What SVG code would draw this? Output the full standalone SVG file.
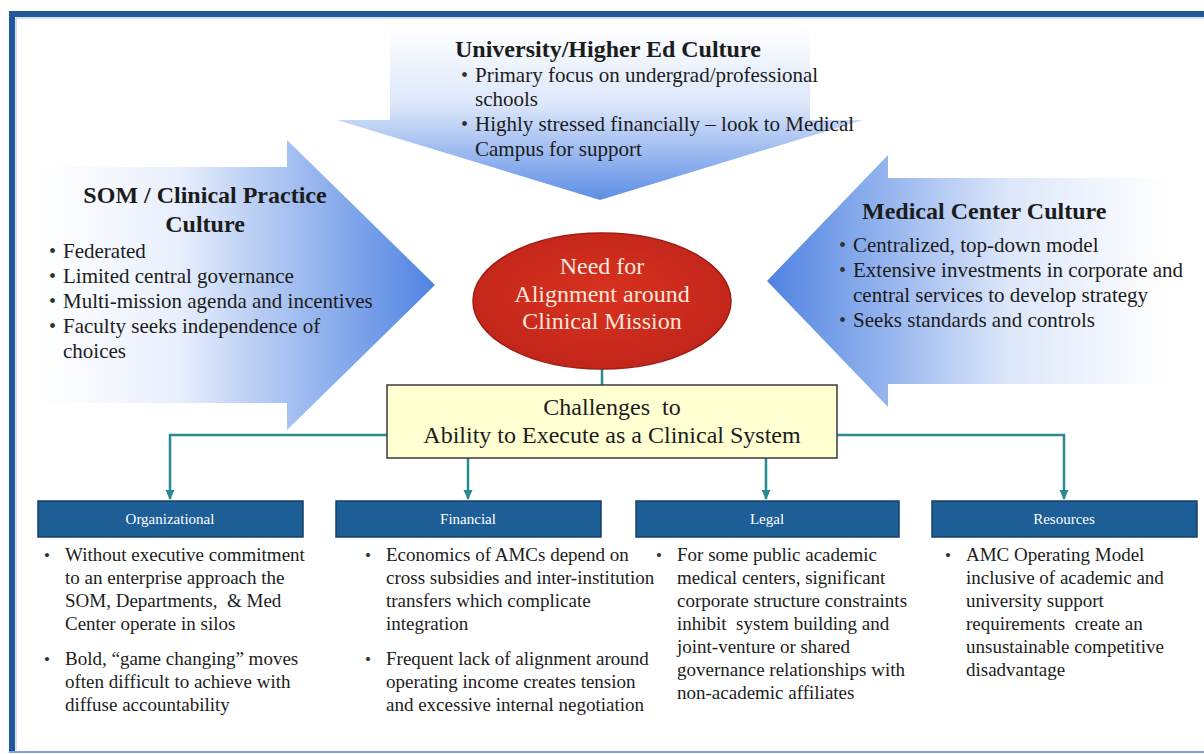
<svg xmlns="http://www.w3.org/2000/svg" width="1204" height="754" viewBox="0 0 1204 754">
<defs>
<linearGradient id="gTop" x1="0" y1="25" x2="0" y2="200" gradientUnits="userSpaceOnUse">
<stop offset="0" stop-color="#ffffff"/><stop offset="0.45" stop-color="#dce7fa"/><stop offset="1" stop-color="#5d8ee6"/>
</linearGradient>
<linearGradient id="gLeft" x1="40" y1="0" x2="435" y2="0" gradientUnits="userSpaceOnUse">
<stop offset="0" stop-color="#ffffff"/><stop offset="0.35" stop-color="#e8effc"/><stop offset="1" stop-color="#4f83e2"/>
</linearGradient>
<linearGradient id="gRight" x1="767" y1="0" x2="1170" y2="0" gradientUnits="userSpaceOnUse">
<stop offset="0" stop-color="#4f83e2"/><stop offset="0.6" stop-color="#dde7fa"/><stop offset="1" stop-color="#ffffff"/>
</linearGradient>
<radialGradient id="gEll" cx="0.5" cy="0.45" r="0.6">
<stop offset="0" stop-color="#d8321f"/><stop offset="1" stop-color="#c0241a"/>
</radialGradient>
<marker id="ah" viewBox="0 0 10 10" refX="9" refY="5" markerWidth="10" markerHeight="10" orient="auto" markerUnits="userSpaceOnUse">
<path d="M0,0.5 L10,5 L0,9.5 z" fill="#2a8a92"/>
</marker>
<style>
.t{font-family:"Liberation Serif","Times New Roman",serif;fill:#1c1c1c}
.ttl{font-family:"Liberation Serif","Times New Roman",serif;font-weight:bold;font-size:24px;fill:#1c1c1c}
.b21{font-size:21px}
.b19{font-size:19px}
.bul{font-family:"Liberation Serif","Times New Roman",serif;fill:#333;font-size:20px}
.bul2{font-family:"Liberation Serif","Times New Roman",serif;fill:#333;font-size:17px}
.hdr{fill:#1d5e97;stroke:#143f66;stroke-width:1.5}
.hdrt{font-family:"Liberation Serif","Times New Roman",serif;font-size:15px;fill:#ffffff;text-anchor:middle}
.con{fill:none;stroke:#2a8a92;stroke-width:2.5}
</style>
</defs>
<rect x="0" y="0" width="1204" height="754" fill="#ffffff"/>
<g id="frame">
<path d="M12,752 L12,14 L1204,14" fill="none" stroke="#24569a" stroke-width="6"/>
<path d="M16,750 L16,18 L1204,18" fill="none" stroke="#a9c3e6" stroke-width="1"/>
<line x1="9" y1="752" x2="1204" y2="752" stroke="#7fa3d6" stroke-width="2"/>
</g>
<g id="university-arrow">
<polygon points="390,22 810,22 810,120 863,120 600,200 337,120 390,120" fill="url(#gTop)"/>
<text class="ttl" x="455" y="57">University/Higher Ed Culture</text>
<text class="bul" x="461" y="82">•</text>
<text class="t b21" x="475" y="82">Primary focus on undergrad/professional</text>
<text class="t b21" x="475" y="106">schools</text>
<text class="bul" x="461" y="131">•</text>
<text class="t b21" x="475" y="131">Highly stressed financially – look to Medical</text>
<text class="t b21" x="475" y="156">Campus for support</text>
</g>
<g id="som-arrow">
<polygon points="17,167 287,167 287,140 435,285 287,430 287,403 17,403" fill="url(#gLeft)"/>
<text class="ttl" x="205" y="203" text-anchor="middle">SOM / Clinical Practice</text>
<text class="ttl" x="205" y="232" text-anchor="middle">Culture</text>
<text class="bul" x="49" y="258">•</text>
<text class="t b21" x="63" y="258">Federated</text>
<text class="bul" x="49" y="283">•</text>
<text class="t b21" x="63" y="283">Limited central governance</text>
<text class="bul" x="49" y="308">•</text>
<text class="t b21" x="63" y="308">Multi-mission agenda and incentives</text>
<text class="bul" x="49" y="333">•</text>
<text class="t b21" x="63" y="333">Faculty seeks independence of</text>
<text class="t b21" x="63" y="358">choices</text>
</g>
<g id="medical-arrow">
<polygon points="767,281 888,155 888,178 1204,178 1204,384 888,384 888,407" fill="url(#gRight)"/>
<text class="ttl" x="862" y="219">Medical Center Culture</text>
<text class="bul" x="839" y="252">•</text>
<text class="t b21" x="853" y="252">Centralized, top-down model</text>
<text class="bul" x="839" y="277">•</text>
<text class="t b21" x="853" y="277">Extensive investments in corporate and</text>
<text class="t b21" x="853" y="302">central services to develop strategy</text>
<text class="bul" x="839" y="327">•</text>
<text class="t b21" x="853" y="327">Seeks standards and controls</text>
</g>
<g id="connectors">
<line class="con" x1="602" y1="368" x2="602" y2="386"/>
<polyline class="con" points="387,435 170,435 170,499" marker-end="url(#ah)"/>
<polyline class="con" points="837,435 1064,435 1064,499" marker-end="url(#ah)"/>
<line class="con" x1="468" y1="458" x2="468" y2="499" marker-end="url(#ah)"/>
<line class="con" x1="766" y1="458" x2="766" y2="499" marker-end="url(#ah)"/>
</g>
<g id="need-alignment">
<ellipse cx="602" cy="301" rx="129" ry="68" fill="url(#gEll)" stroke="#9e1d14" stroke-width="1.5"/>
<text class="t" x="602" y="274" font-size="24" text-anchor="middle" style="fill:#fce6dc">Need for</text>
<text class="t" x="602" y="302" font-size="24" text-anchor="middle" style="fill:#fce6dc">Alignment around</text>
<text class="t" x="602" y="329" font-size="24" text-anchor="middle" style="fill:#fce6dc">Clinical Mission</text>
</g>
<g id="challenges">
<rect x="387" y="385" width="450" height="73" fill="#ffffd2" stroke="#3a3a3a" stroke-width="1.5"/>
<text class="t" x="612" y="415" font-size="24" text-anchor="middle" xml:space="preserve">Challenges  to</text>
<text class="t" x="612" y="443" font-size="24" text-anchor="middle">Ability to Execute as a Clinical System</text>
</g>
<g id="organizational">
<rect class="hdr" x="38" y="501" width="265" height="36"/>
<text class="hdrt" x="170" y="524">Organizational</text>
<text class="bul2" x="44" y="561">•</text>
<text class="t b19" x="65" y="561">Without executive commitment</text>
<text class="t b19" x="65" y="584">to an enterprise approach the</text>
<text class="t b19" x="65" y="607" xml:space="preserve">SOM, Departments,  &amp; Med</text>
<text class="t b19" x="65" y="630">Center operate in silos</text>
<text class="bul2" x="44" y="665">•</text>
<text class="t b19" x="65" y="665">Bold, “game changing” moves</text>
<text class="t b19" x="65" y="688">often difficult to achieve with</text>
<text class="t b19" x="65" y="711">diffuse accountability</text>
</g>
<g id="financial">
<rect class="hdr" x="336" y="501" width="265" height="36"/>
<text class="hdrt" x="468" y="524">Financial</text>
<text class="bul2" x="365" y="561">•</text>
<text class="t b19" x="386" y="561">Economics of AMCs depend on</text>
<text class="t b19" x="386" y="584">cross subsidies and inter-institution</text>
<text class="t b19" x="386" y="607">transfers which complicate</text>
<text class="t b19" x="386" y="630">integration</text>
<text class="bul2" x="365" y="665">•</text>
<text class="t b19" x="386" y="665">Frequent lack of alignment around</text>
<text class="t b19" x="386" y="688">operating income creates tension</text>
<text class="t b19" x="386" y="711">and excessive internal negotiation</text>
</g>
<g id="legal">
<rect class="hdr" x="636" y="501" width="263" height="36"/>
<text class="hdrt" x="767" y="524">Legal</text>
<text class="bul2" x="656" y="561">•</text>
<text class="t b19" x="677" y="561">For some public academic</text>
<text class="t b19" x="677" y="584">medical centers, significant</text>
<text class="t b19" x="677" y="607">corporate structure constraints</text>
<text class="t b19" x="677" y="630" xml:space="preserve">inhibit  system building and</text>
<text class="t b19" x="677" y="653">joint-venture or shared</text>
<text class="t b19" x="677" y="676">governance relationships with</text>
<text class="t b19" x="677" y="699">non-academic affiliates</text>
</g>
<g id="resources">
<rect class="hdr" x="932" y="501" width="265" height="36"/>
<text class="hdrt" x="1064" y="524">Resources</text>
<text class="bul2" x="945" y="561">•</text>
<text class="t b19" x="966" y="561">AMC Operating Model</text>
<text class="t b19" x="966" y="584">inclusive of academic and</text>
<text class="t b19" x="966" y="607">university support</text>
<text class="t b19" x="966" y="630" xml:space="preserve">requirements  create an</text>
<text class="t b19" x="966" y="653">unsustainable competitive</text>
<text class="t b19" x="966" y="676">disadvantage</text>
</g>
</svg>
